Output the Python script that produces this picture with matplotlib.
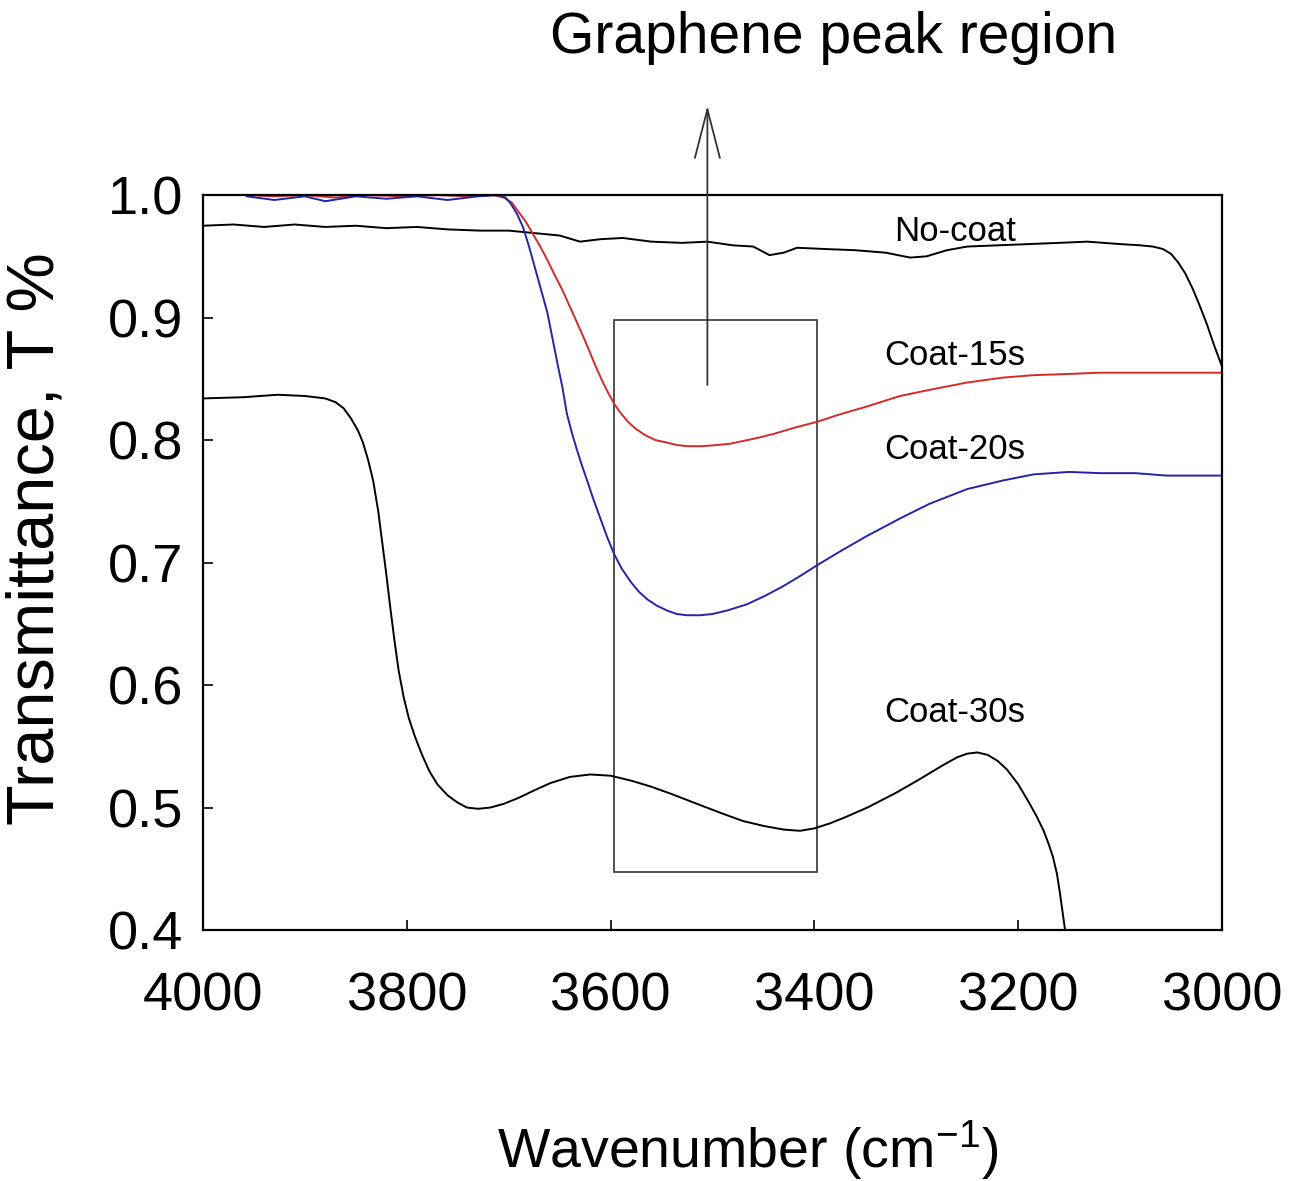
import matplotlib
matplotlib.use("Agg")
import matplotlib.pyplot as plt
from matplotlib.patches import Rectangle

plt.rcParams['font.family'] = ['Liberation Sans', 'DejaVu Sans']
plt.rcParams['mathtext.fontset'] = 'custom'
plt.rcParams['mathtext.rm'] = 'Liberation Sans'
plt.rcParams['mathtext.it'] = 'Liberation Sans'

# -- data (wavenumber cm-1, transmittance) --
nocoat_w = [4000, 3970, 3940, 3910, 3880, 3850, 3820, 3790, 3760, 3728, 3700, 3675, 3650,
            3630, 3610, 3588, 3560, 3530, 3505, 3480, 3460, 3444, 3430, 3417, 3390, 3360,
            3330, 3306, 3290, 3270, 3250, 3220, 3190, 3160, 3132, 3100, 3080, 3068, 3058,
            3050, 3043, 3036, 3029, 3022, 3015, 3008, 3000]
nocoat_t = [0.975, 0.976, 0.974, 0.976, 0.974, 0.975, 0.973, 0.974, 0.972, 0.971, 0.971, 0.969, 0.967,
            0.962, 0.964, 0.965, 0.962, 0.961, 0.962, 0.959, 0.958, 0.951, 0.953, 0.957, 0.956, 0.955,
            0.953, 0.949, 0.950, 0.955, 0.958, 0.959, 0.960, 0.961, 0.962, 0.960, 0.959, 0.958, 0.956,
            0.952, 0.945, 0.936, 0.924, 0.910, 0.895, 0.878, 0.860]

c15_w = [3957, 3930, 3900, 3870, 3840, 3800, 3770, 3740, 3715, 3705, 3697, 3690, 3683, 3676,
         3669, 3662, 3655, 3647, 3640, 3633, 3626, 3620, 3614, 3608, 3602, 3596, 3590, 3583,
         3575, 3566, 3556, 3545, 3535, 3525, 3510, 3495, 3483, 3460, 3440, 3420, 3397, 3375,
         3350, 3316, 3287, 3250, 3215, 3185, 3150, 3120, 3060, 3000]
c15_t = [1.0, 0.999, 1.0, 0.998, 1.0, 0.999, 1.0, 0.999, 1.0, 0.998, 0.994, 0.986, 0.978, 0.968,
         0.958, 0.947, 0.935, 0.922, 0.909, 0.896, 0.883, 0.871, 0.859, 0.848, 0.838, 0.829, 0.822, 0.815,
         0.809, 0.804, 0.800, 0.798, 0.796, 0.795, 0.795, 0.796, 0.797, 0.801, 0.805, 0.810, 0.815, 0.821,
         0.827, 0.836, 0.841, 0.847, 0.851, 0.853, 0.854, 0.855, 0.855, 0.855]

c20_w = [3957, 3930, 3900, 3880, 3850, 3820, 3790, 3760, 3730, 3710, 3703, 3698, 3692, 3686,
         3680, 3674, 3668, 3662, 3657, 3652, 3647, 3643, 3638, 3633, 3628, 3623, 3617, 3610,
         3603, 3596, 3589, 3580, 3572, 3564, 3555, 3545, 3535, 3525, 3512, 3500, 3485, 3466,
         3448, 3430, 3414, 3397, 3375, 3350, 3316, 3287, 3250, 3215, 3185, 3150, 3120, 3085,
         3054, 3000]
c20_t = [0.999, 0.996, 0.999, 0.995, 0.999, 0.997, 0.999, 0.996, 0.999, 1.0, 0.998, 0.993, 0.985, 0.974,
         0.958, 0.940, 0.922, 0.904, 0.883, 0.862, 0.842, 0.822, 0.806, 0.792, 0.779, 0.767, 0.752, 0.736,
         0.720, 0.706, 0.695, 0.684, 0.676, 0.670, 0.665, 0.661, 0.658, 0.657, 0.657, 0.658, 0.661, 0.666,
         0.673, 0.681, 0.689, 0.698, 0.709, 0.721, 0.736, 0.748, 0.760, 0.767, 0.772, 0.774, 0.773, 0.773,
         0.771, 0.771]

c30_w = [4000, 3960, 3927, 3900, 3880, 3870, 3862, 3855, 3848, 3843, 3838, 3833, 3828, 3824,
         3820, 3816, 3812, 3808, 3803, 3798, 3792, 3785, 3778, 3770, 3760, 3750, 3741, 3730,
         3718, 3705, 3690, 3675, 3659, 3640, 3620, 3600, 3580, 3560, 3540, 3512, 3490, 3470,
         3450, 3430, 3414, 3400, 3385, 3370, 3348, 3320, 3299, 3275, 3260, 3250, 3240, 3230,
         3220, 3211, 3200, 3190, 3182, 3175, 3170, 3166, 3162, 3159, 3156, 3154, 3152]
c30_t = [0.834, 0.835, 0.837, 0.836, 0.834, 0.831, 0.826, 0.818, 0.808, 0.798, 0.784, 0.767, 0.742, 0.716,
         0.690, 0.662, 0.636, 0.612, 0.590, 0.573, 0.558, 0.543, 0.530, 0.519, 0.510, 0.504, 0.500, 0.499,
         0.500, 0.503, 0.508, 0.514, 0.520, 0.525, 0.527, 0.526, 0.522, 0.517, 0.511, 0.502, 0.495, 0.489,
         0.485, 0.482, 0.481, 0.483, 0.487, 0.492, 0.500, 0.512, 0.522, 0.534, 0.541, 0.544, 0.545, 0.543,
         0.538, 0.531, 0.519, 0.505, 0.493, 0.481, 0.470, 0.460, 0.446, 0.430, 0.412, 0.400, 0.385]

labels = ["No-coat", "Coat-15s", "Coat-20s", "Coat-30s"]
label_pos = [(3262, 0.970), (3262, 0.869), (3262, 0.792), (3262, 0.578)]

fig = plt.figure(figsize=(12.96, 11.81), dpi=100)
ax = fig.add_axes([0.1566, 0.2125, 0.7863, 0.6223])

ax.plot(nocoat_w, nocoat_t, color='black', lw=1.4)
ax.plot(c30_w, c30_t, color='black', lw=1.4)
ax.plot(c15_w, c15_t, color='#d42a2a', lw=1.4)
ax.plot(c20_w, c20_t, color='#2424a8', lw=1.4)

for lab, (x, y) in zip(labels, label_pos):
    ax.text(x, y, lab, fontsize=25, ha='center', va='center')

# graphene peak box + arrow
ax.add_patch(Rectangle((3397, 0.447), 200, 0.451, fill=False, edgecolor='#444444', lw=1.3))
ax.annotate('', xy=(3505, 1.073), xytext=(3505, 0.845), annotation_clip=False,
            arrowprops=dict(arrowstyle='->,head_length=3.5,head_width=0.9', mutation_scale=10,
                            lw=1.3, color='#333333', shrinkA=0, shrinkB=0))
ax.text(3381, 1.128, "Graphene peak region", fontsize=41, ha='center', va='center', clip_on=False)

ax.set_xlim(4000, 3000)
ax.set_ylim(0.4, 1.0)
ax.set_xticks([4000, 3800, 3600, 3400, 3200, 3000])
ax.set_yticks([0.4, 0.5, 0.6, 0.7, 0.8, 0.9, 1.0])
ax.set_yticklabels(["0.4", "0.5", "0.6", "0.7", "0.8", "0.9", "1.0"])
ax.tick_params(axis='both', direction='in', length=7, width=1.2, labelsize=39)
ax.tick_params(axis='x', pad=30)
ax.tick_params(axis='y', pad=14)
for s in ax.spines.values():
    s.set_linewidth(1.6)

ax.set_xlabel("Wavenumber (cm$^{-1}$)", fontsize=40, va='center')
ax.xaxis.set_label_coords(0.534, -0.299)
ax.set_ylabel("Transmittance, T %", fontsize=48, va='center')
ax.yaxis.set_label_coords(-0.163, 0.532)

fig.savefig("out.png", dpi=100)
